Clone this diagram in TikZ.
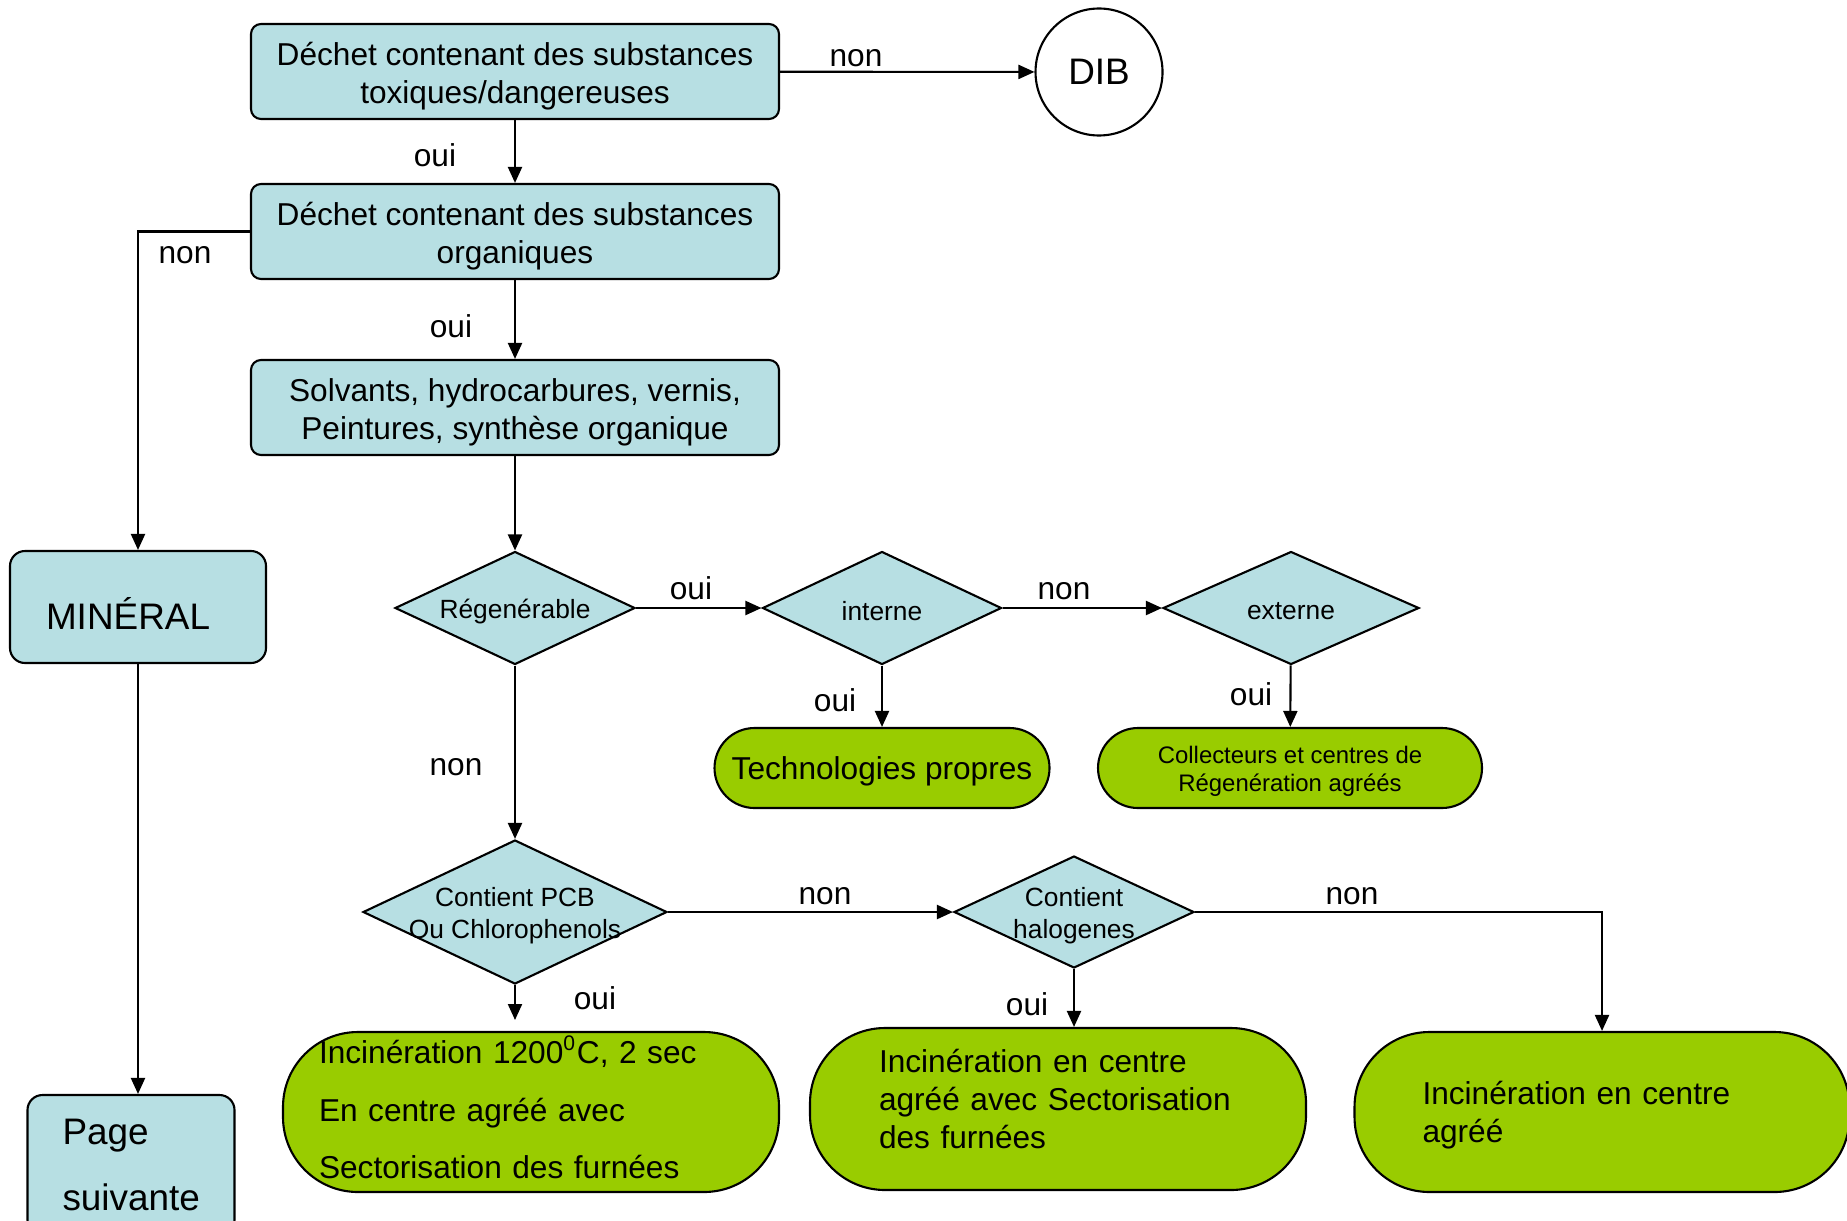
\documentclass[tikz,border=0pt]{standalone}
\usepackage{fontspec}
\setmainfont{Liberation Sans}
\usetikzlibrary{shapes.geometric,arrows.meta}

\definecolor{boxblue}{RGB}{183,223,227}
\definecolor{leafgreen}{RGB}{153,204,0}

\tikzset{
  bluebox/.style={draw, fill=boxblue, rounded corners=1mm, align=center,
    inner sep=0pt, font=\fontsize{9}{10.7}\selectfont},
  twoline/.style={minimum width=52.8mm, minimum height=9.5mm,
    text height=19.7pt, text depth=1.6pt},
  decision/.style={diamond, draw, fill=boxblue, inner sep=0pt},
  dtext/.style={align=center, inner sep=0pt, yshift=-1pt,
    font=\fontsize{7.5}{9}\selectfont},
  endbox/.style={draw, fill=leafgreen, inner sep=0pt},
  lab/.style={inner sep=0pt, font=\fontsize{9}{10.7}\selectfont},
  arr/.style={-{Triangle[length=1.6mm,width=1.4mm]}},
}

\begin{document}
\begin{tikzpicture}[x=0.1mm, y=-0.1mm, line width=0.6pt]
\useasboundingbox (0,0) rectangle (1847,1220);

%blue boxes
\node[bluebox, twoline] (toxic) at (515,71.5)
  {Déchet contenant des substances\\toxiques/dangereuses};
\node[bluebox, twoline] (organic) at (515,231.5)
  {Déchet contenant des substances\\organiques};
\node[bluebox, twoline] (solvent) at (515,407.5)
  {Solvants, hydrocarbures, vernis,\\ Peintures, synthèse organique};
\node[bluebox, rounded corners=1.5mm, align=left, text width=18.4mm, inner xsep=3.6mm,
  minimum height=11.2mm, text height=12.9pt, text depth=0pt,
  font=\fontsize{10.5}{12}\selectfont] (mineral) at (138,607) {MINÉRAL};
\node[bluebox, rounded corners=1.5mm, align=left, text width=13.7mm, inner xsep=3.5mm,
  minimum height=14mm, font=\fontsize{10.5}{19}\selectfont] (page) at (131,1165)
  {Page\\suivante};

%DIB circle
\node[circle, draw, fill=white, minimum size=12.7mm, inner sep=0pt,
  font=\fontsize{10.5}{12}\selectfont] (dib) at (1099,72) {DIB};

%diamonds
\node[decision, minimum width=24mm, minimum height=11.3mm,
  label={[dtext]center:Régenérable}] (regen) at (515,608) {};
\node[decision, minimum width=23.9mm, minimum height=11.3mm,
  label={[dtext]center:interne}] (intern) at (882,608) {};
\node[decision, minimum width=25.6mm, minimum height=11.3mm,
  label={[dtext]center:externe}] (extern) at (1291,608) {};
\node[decision, minimum width=30.4mm, minimum height=14.4mm,
  label={[dtext]center:{Contient PCB\\Ou Chlorophenols}}] (pcb) at (515,912) {};
\node[decision, minimum width=24mm, minimum height=11.2mm,
  label={[dtext]center:{Contient\\halogenes}}] (halo) at (1074,912) {};

%green boxes
\node[endbox, rounded corners=4mm, minimum width=33.5mm, minimum height=8mm,
  text height=8.6pt, text depth=1.9pt,
  font=\fontsize{9}{10.7}\selectfont] (tech) at (882,768) {Technologies propres};
\node[endbox, rounded corners=4mm, minimum width=38.4mm, minimum height=8mm,
  align=center, text height=14.9pt, text depth=1.4pt,
  font=\fontsize{6.8}{8}\selectfont] (collect) at (1290,768)
  {Collecteurs et centres de\\Régenération agréés};
\node[endbox, rounded corners=7.5mm, minimum height=16mm, align=left,
  text width=42.4mm, inner xsep=3.6mm, text height=8.1pt, text depth=35.6pt,
  font=\fontsize{9}{16.4}\selectfont] (inc1) at (531,1112)
  {Incinération 1200\textsuperscript{0}C, 2 sec\\En centre agréé avec\\Sectorisation des furnées};
\node[endbox, rounded corners=7.5mm, minimum height=16.2mm, align=left,
  text width=35.8mm, inner xsep=6.9mm, text height=6.5pt, text depth=27.5pt,
  font=\fontsize{9}{10.9}\selectfont] (inc2) at (1058,1109)
  {Incinération en centre\\agréé avec Sectorisation\\des furnées};
\node[endbox, rounded corners=7.5mm, minimum height=16mm, align=left,
  text width=35.9mm, inner xsep=6.8mm, text height=8.5pt, text depth=12.8pt,
  font=\fontsize{9}{10.9}\selectfont] (inc3) at (1602,1112)
  {Incinération en centre\\agréé};

%arrows
\coordinate (pcbend) at (515,1020);
\draw[arr] (toxic) -- (dib);
\draw[arr] (toxic) -- (organic);
\draw[arr] (organic.west) -| (mineral.north);
\draw[arr] (organic) -- (solvent);
\draw[arr] (solvent) -- (regen);
\draw[arr] (regen) -- (intern);
\draw[arr] (intern) -- (extern);
\draw[arr] (intern) -- (tech);
\draw[arr] (extern) -- (collect);
\draw[arr] (regen) -- (pcb);
\draw[arr] (pcb) -- (halo);
\draw[arr] (pcb.south) -- (pcbend);
\draw[arr] (halo.south) -- (halo.south |- inc2.north);
\draw[arr] (halo.east) -| (inc3.north);
\draw[arr] (mineral.south) -- (mineral.south |- page.north);

%arrow labels
\node[lab] (non1) at (856,58) {non};
\node[lab] (oui1) at (435,155) {oui};
\node[lab] (non2) at (185,255) {non};
\node[lab] (oui2) at (451,326) {oui};
\node[lab] (oui3) at (691,588) {oui};
\node[lab] (non3) at (1064,591) {non};
\node[lab] (oui4) at (835,700) {oui};
\node[lab] (oui5) at (1251,694) {oui};
\node[lab] (non4) at (456,767) {non};
\node[lab] (non5) at (825,896) {non};
\node[lab] (non6) at (1352,896) {non};
\node[lab] (oui6) at (595,998) {oui};
\node[lab] (oui7) at (1027,1004) {oui};

\end{tikzpicture}
\end{document}
